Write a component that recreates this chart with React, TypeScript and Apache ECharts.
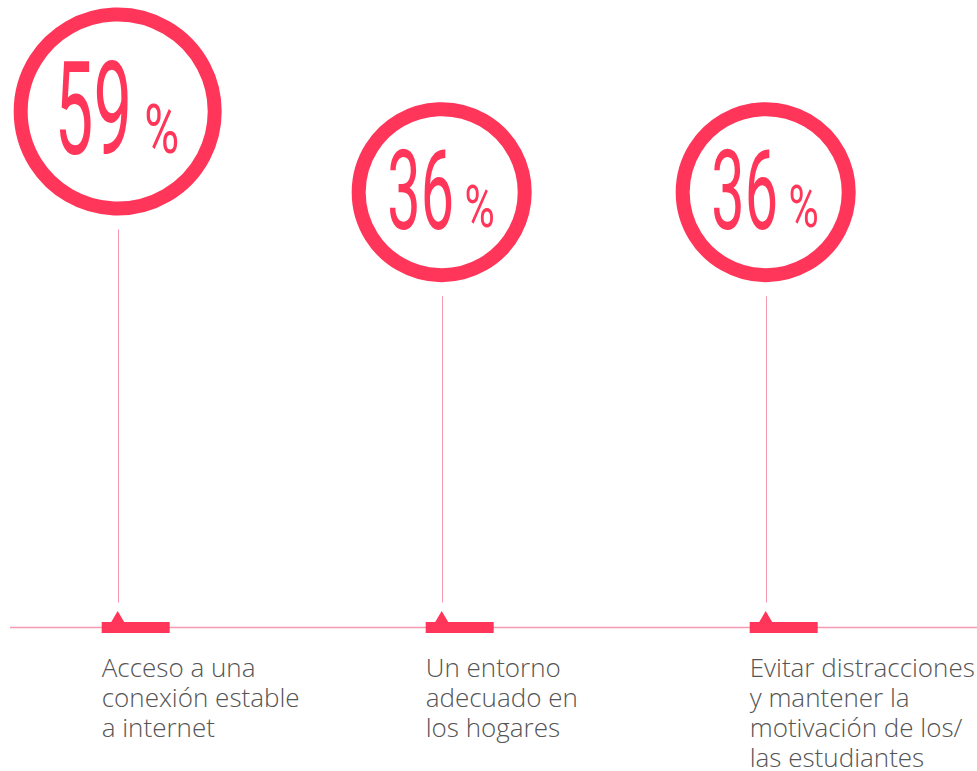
import React, { useEffect, useRef } from "react";
import * as echarts from "echarts";

const categories: string[] = [
  "Acceso a una\nconexión estable\na internet",
  "Un entorno\nadecuado en\nlos hogares",
  "Evitar distracciones\ny mantener la\nmotivación de los/\nlas estudiantes",
];
const values: number[] = [59, 36, 36];

const RED = "#ff3559";
const PINK = "#f79ab0";
const TEXT = "#555555";
const BASE_Y = 627.5;

export default function App() {
  const ref = useRef<HTMLDivElement>(null);
  useEffect(() => {
    if (!ref.current) return;
    const chart = echarts.init(ref.current, null, { renderer: "svg" });
    const renderItem = (params: any, api: any) => {
      const idx = api.value(0);
      const v = api.value(1);
      const [cx, cy] = api.coord([idx, v]);
      const r = 68.1 + 0.6087 * v;
      const s = r / 90;
      const lx = Math.round(cx) + 0.5;
      const label = categories[idx];
      return {
        type: "group",
        children: [
          {
            type: "circle",
            shape: { cx, cy, r: r - 7 },
            style: { fill: "none", stroke: RED, lineWidth: 14 },
          },
          {
            type: "text",
            x: cx - 21 * s,
            y: cy - 1.5 * s,
            scaleX: 0.53,
            style: {
              text: String(v),
              fontSize: 112 * s,
              fontFamily: "Roboto",
              fontWeight: 400,
              fill: RED,
              align: "center",
              verticalAlign: "middle",
            },
          },
          {
            type: "text",
            x: cx + 38 * s,
            y: cy + 15 * s,
            scaleX: 0.7,
            style: {
              text: "%",
              fontSize: 59 * s,
              fontFamily: "Roboto",
              fontWeight: 400,
              fill: RED,
              align: "center",
              verticalAlign: "middle",
            },
          },
          {
            type: "line",
            shape: { x1: lx, y1: cy + r + 14, x2: lx, y2: BASE_Y - 25 },
            style: { stroke: PINK, lineWidth: 1 },
          },
          {
            type: "rect",
            shape: { x: cx - 16, y: BASE_Y - 5.5, width: 68, height: 11 },
            style: { fill: RED },
          },
          {
            type: "polygon",
            shape: {
              points: [
                [cx, BASE_Y - 16.5],
                [cx - 6.5, BASE_Y - 5.5],
                [cx + 6.5, BASE_Y - 5.5],
              ],
            },
            style: { fill: RED },
          },
          {
            type: "text",
            x: cx - 16,
            y: BASE_Y + 24,
            style: {
              text: label,
              fontSize: 26,
              lineHeight: 30,
              fontFamily: "Open Sans",
              fontWeight: 300,
              fill: TEXT,
              align: "left",
              verticalAlign: "top",
            },
          },
        ],
      };
    };
    chart.setOption({
      animation: false,
      backgroundColor: "#ffffff",
      grid: { left: 117.7, right: 211.3, top: 72.9, bottom: 522.7 },
      xAxis: {
        type: "category",
        data: categories,
        boundaryGap: false,
        show: false,
      },
      yAxis: { type: "value", min: 20, max: 70, show: false },
      graphic: [
        {
          type: "line",
          z: 0,
          shape: { x1: 10, y1: BASE_Y, x2: 977, y2: BASE_Y },
          style: { stroke: PINK, lineWidth: 1.3 },
        },
      ],
      series: [
        {
          type: "custom",
          z: 5,
          data: values.map((v, i) => [i, v]),
          encode: { x: 0, y: 1 },
          renderItem,
        },
      ],
    });
    return () => chart.dispose();
  }, []);
  return (
    <div
      ref={ref}
      style={{ position: "fixed", left: 0, top: 0, width: 977, height: 771 }}
    />
  );
}
